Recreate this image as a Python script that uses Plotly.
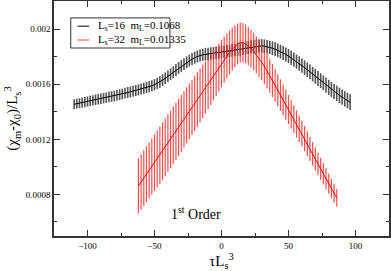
import plotly.graph_objects as go

# ---- data ----
tau_16 = [-110, -108, -106, -104, -102, -100, -98, -96, -94, -92, -90, -88, -86, -84, -82,
          -80, -78, -76, -74, -72, -70, -68, -66, -64, -62, -60, -58, -56, -54, -52,
          -50, -48, -46, -44, -42, -40, -38, -36, -34, -32, -30, -28, -26, -24, -22,
          -20, -18, -16, -14, -12, -10, -8, -6, -4, -2, 0, 2, 4, 6, 8,
          10, 12, 14, 16, 18, 20, 22, 24, 26, 28, 30, 32, 34, 36, 38,
          40, 42, 44, 46, 48, 50, 52, 54, 56, 58, 60, 62, 64, 66, 68,
          70, 72, 74, 76, 78, 80, 82, 84, 86, 88, 90, 92, 94, 96]
chi_16 = [1.455, 1.459, 1.463, 1.467, 1.471, 1.475, 1.479, 1.483, 1.487, 1.491, 1.495, 1.499, 1.503, 1.507, 1.511,
          1.515, 1.520, 1.525, 1.530, 1.535, 1.540, 1.545, 1.550, 1.555, 1.560, 1.565, 1.571, 1.577, 1.583, 1.589,
          1.597, 1.606, 1.617, 1.630, 1.644, 1.658, 1.673, 1.688, 1.704, 1.719, 1.733, 1.747, 1.760, 1.772, 1.783,
          1.793, 1.802, 1.809, 1.814, 1.818, 1.821, 1.824, 1.826, 1.829, 1.831, 1.834, 1.837, 1.840, 1.843, 1.846,
          1.849, 1.852, 1.855, 1.859, 1.863, 1.867, 1.871, 1.874, 1.877, 1.879, 1.879, 1.877, 1.873, 1.868, 1.862,
          1.855, 1.847, 1.838, 1.828, 1.817, 1.805, 1.792, 1.779, 1.765, 1.751, 1.736, 1.721, 1.706, 1.690, 1.674,
          1.658, 1.642, 1.626, 1.610, 1.594, 1.578, 1.563, 1.548, 1.534, 1.520, 1.507, 1.494, 1.482, 1.470]
err_16 = [0.036, 0.036, 0.036, 0.037, 0.037, 0.037, 0.037, 0.037, 0.038, 0.038, 0.038, 0.038, 0.038, 0.038, 0.039,
          0.039, 0.039, 0.039, 0.039, 0.039, 0.040, 0.040, 0.040, 0.040, 0.040, 0.040, 0.040, 0.041, 0.041, 0.041,
          0.041, 0.041, 0.042, 0.042, 0.042, 0.042, 0.042, 0.043, 0.043, 0.043, 0.043, 0.043, 0.043, 0.044, 0.044,
          0.044, 0.044, 0.044, 0.044, 0.045, 0.045, 0.045, 0.045, 0.045, 0.045, 0.045, 0.045, 0.046, 0.046, 0.046,
          0.046, 0.046, 0.047, 0.047, 0.047, 0.047, 0.048, 0.048, 0.048, 0.048, 0.049, 0.049, 0.049, 0.049, 0.050,
          0.050, 0.050, 0.050, 0.051, 0.051, 0.051, 0.051, 0.052, 0.052, 0.052, 0.052, 0.053, 0.053, 0.053, 0.053,
          0.054, 0.054, 0.054, 0.054, 0.055, 0.055, 0.055, 0.055, 0.056, 0.056, 0.056, 0.056, 0.057, 0.057]

tau_32 = [-62, -60, -58, -56, -54, -52, -50, -48, -46, -44, -42, -40, -38, -36, -34,
          -32, -30, -28, -26, -24, -22, -20, -18, -16, -14, -12, -10, -8, -6, -4,
          -2, 0, 2, 4, 6, 8, 10, 12, 14, 16, 18, 20, 22, 24, 26,
          28, 30, 32, 34, 36, 38, 40, 42, 44, 46, 48, 50, 52, 54, 56,
          58, 60, 62, 64, 66, 68, 70, 72, 74, 76, 78, 80, 82, 84, 86]
chi_32 = [0.862, 0.890, 0.918, 0.946, 0.974, 1.002, 1.030, 1.058, 1.086, 1.114, 1.143, 1.172, 1.200, 1.229, 1.258,
          1.287, 1.316, 1.345, 1.374, 1.403, 1.432, 1.461, 1.490, 1.519, 1.548, 1.577, 1.606, 1.635, 1.664, 1.693,
          1.722, 1.751, 1.779, 1.806, 1.831, 1.855, 1.876, 1.893, 1.903, 1.902, 1.893, 1.878, 1.860, 1.838, 1.814,
          1.788, 1.760, 1.730, 1.698, 1.662, 1.627, 1.592, 1.557, 1.522, 1.487, 1.452, 1.417, 1.382, 1.347, 1.312,
          1.277, 1.242, 1.205, 1.168, 1.131, 1.094, 1.058, 1.022, 0.986, 0.950, 0.914, 0.878, 0.843, 0.808, 0.775]
err_32 = [0.200, 0.201, 0.202, 0.203, 0.204, 0.205, 0.206, 0.207, 0.208, 0.209, 0.210, 0.210, 0.210, 0.209, 0.208,
          0.207, 0.206, 0.205, 0.204, 0.203, 0.201, 0.200, 0.198, 0.196, 0.194, 0.191, 0.188, 0.185, 0.182, 0.179,
          0.175, 0.172, 0.168, 0.164, 0.160, 0.156, 0.152, 0.148, 0.145, 0.143, 0.141, 0.139, 0.137, 0.136, 0.134,
          0.133, 0.131, 0.129, 0.126, 0.124, 0.121, 0.119, 0.116, 0.114, 0.111, 0.109, 0.106, 0.104, 0.101, 0.099,
          0.096, 0.094, 0.092, 0.090, 0.088, 0.086, 0.084, 0.082, 0.080, 0.078, 0.076, 0.074, 0.071, 0.068, 0.065]

SCALE = 1e-3
legend_16 = "L<sub>s</sub>=16&nbsp;&nbsp;m<sub>L</sub>=0.1068"
legend_32 = "L<sub>s</sub>=32&nbsp;&nbsp;m<sub>L</sub>=0.01335"

x_ticks = [-100, -50, 0, 50, 100]
x_minor = [-75, -25, 25, 75]
y_ticks = [0.0008, 0.0012, 0.0016, 0.002]
y_ticklabels = ["0.0008", "0.0012", "0.0016", "0.002"]
y_minor = [0.0006, 0.0010, 0.0014, 0.0018]

SERIF = "Liberation Serif, Times New Roman, serif"

fig = go.Figure()
fig.add_trace(go.Scatter(
    x=tau_16, y=[v * SCALE for v in chi_16], mode="lines",
    line=dict(color="black", width=1),
    error_y=dict(type="data", array=[e * SCALE for e in err_16], color="rgba(40,40,40,0.8)",
                 thickness=1.6, width=0),
    showlegend=False))
fig.add_trace(go.Scatter(
    x=tau_32, y=[v * SCALE for v in chi_32], mode="lines",
    line=dict(color="#ff0000", width=1),
    error_y=dict(type="data", array=[e * SCALE for e in err_32], color="rgba(255,30,30,0.8)",
                 thickness=1.2, width=0),
    showlegend=False))

axis_common = dict(showgrid=False, zeroline=False, showline=True, linecolor="#333",
                   linewidth=1.5, mirror="allticks", ticks="inside", ticklen=6,
                   tickcolor="#333", tickwidth=1, automargin=False,
                   tickfont=dict(family=SERIF, size=9, color="black"))
fig.update_xaxes(range=[-125, 125], tickvals=x_ticks,
                 minor=dict(tickvals=x_minor, ticks="inside", ticklen=3, tickcolor="#333"),
                 title=dict(text="τL<sub>s</sub><sup>3</sup>", font=dict(family=SERIF, size=15, color="black"),
                            standoff=6),
                 **axis_common)
fig.update_yaxes(range=[0.000498, 0.002205], tickvals=y_ticks, ticktext=y_ticklabels,
                 minor=dict(tickvals=y_minor, ticks="inside", ticklen=3, tickcolor="#333"),
                 title=dict(text="(χ<sub>m</sub>-χ<sub>0</sub>)/L<sub>s</sub><sup>3</sup>",
                            font=dict(family=SERIF, size=15, color="black"), standoff=4),
                 **axis_common)

# legend box drawn in paper coordinates
fig.add_shape(type="rect", xref="paper", yref="paper", x0=0.05, x1=0.346, y0=0.80, y1=0.928,
              line=dict(color="#333", width=1), fillcolor="white")
fig.add_shape(type="line", xref="paper", yref="paper", x0=0.07, x1=0.105, y0=0.893, y1=0.893,
              line=dict(color="black", width=1))
fig.add_shape(type="line", xref="paper", yref="paper", x0=0.07, x1=0.105, y0=0.834, y1=0.834,
              line=dict(color="#ff8080", width=1.5))
fig.add_annotation(xref="paper", yref="paper", x=0.125, y=0.893, text=legend_16, showarrow=False,
                   xanchor="left", yanchor="middle", font=dict(family=SERIF, size=11, color="black"))
fig.add_annotation(xref="paper", yref="paper", x=0.125, y=0.834, text=legend_32, showarrow=False,
                   xanchor="left", yanchor="middle", font=dict(family=SERIF, size=11, color="black"))

fig.add_annotation(x=-19, y=0.000665, text="1<sup>st</sup> Order", showarrow=False,
                   font=dict(family=SERIF, size=14, color="black"))

fig.update_layout(width=391, height=271, margin=dict(l=54, r=2, t=1, b=35, autoexpand=False),
                  plot_bgcolor="white", paper_bgcolor="white", showlegend=False)

fig.write_html("out.html", config={"displayModeBar": False},
               post_script="document.body.style.margin='0';document.body.style.overflow='hidden';")
